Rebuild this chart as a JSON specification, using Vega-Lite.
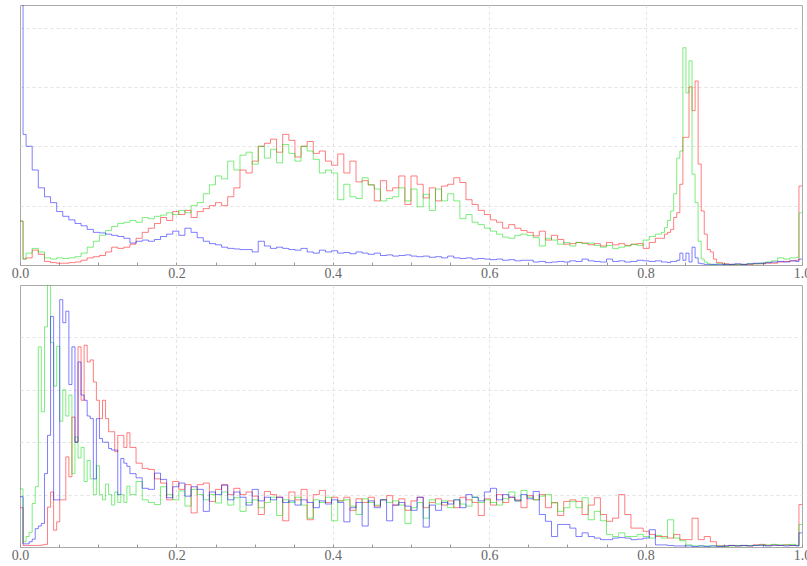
{
  "$schema": "https://vega.github.io/schema/vega-lite/v6.json",
  "padding": {"left": 10, "top": 4, "right": 0, "bottom": 0},
  "background": "white",
  "spacing": 20,
  "bounds": "flush",
  "config": {
    "view": {"stroke": "#aaaaaa", "strokeWidth": 1},
    "font": "Liberation Serif"
  },
  "datasets": {
    "top": [
      {"x":0,"r":0.74,"g":0.74,"b":8},
      {"x":0.0039,"r":0.1,"g":0.1,"b":2.2},
      {"x":0.0078,"r":0.12,"g":0.2,"b":2.0},
      {"x":0.0156,"r":0.25,"g":0.28,"b":1.6},
      {"x":0.0234,"r":0.18,"g":0.22,"b":1.3},
      {"x":0.0313,"r":0.06,"g":0.12,"b":1.15},
      {"x":0.0391,"r":0.04,"g":0.1,"b":1.05},
      {"x":0.0469,"r":0.03,"g":0.12,"b":0.9},
      {"x":0.0547,"r":0.03,"g":0.11,"b":0.82},
      {"x":0.0625,"r":0.04,"g":0.12,"b":0.76},
      {"x":0.0703,"r":0.05,"g":0.14,"b":0.7},
      {"x":0.0781,"r":0.08,"g":0.2,"b":0.66},
      {"x":0.0859,"r":0.12,"g":0.3,"b":0.6},
      {"x":0.0938,"r":0.14,"g":0.4,"b":0.55},
      {"x":0.1016,"r":0.16,"g":0.5,"b":0.54},
      {"x":0.1094,"r":0.22,"g":0.58,"b":0.52},
      {"x":0.1172,"r":0.3,"g":0.65,"b":0.5},
      {"x":0.125,"r":0.28,"g":0.7,"b":0.48},
      {"x":0.1328,"r":0.3,"g":0.72,"b":0.45},
      {"x":0.1406,"r":0.35,"g":0.75,"b":0.37},
      {"x":0.1484,"r":0.45,"g":0.72,"b":0.4},
      {"x":0.1563,"r":0.55,"g":0.8,"b":0.42},
      {"x":0.1641,"r":0.62,"g":0.78,"b":0.4},
      {"x":0.1719,"r":0.7,"g":0.82,"b":0.43},
      {"x":0.1797,"r":0.8,"g":0.84,"b":0.48},
      {"x":0.1875,"r":0.75,"g":0.88,"b":0.52},
      {"x":0.1953,"r":0.9,"g":0.85,"b":0.57},
      {"x":0.2031,"r":0.85,"g":0.92,"b":0.5},
      {"x":0.2109,"r":0.92,"g":0.88,"b":0.62},
      {"x":0.2188,"r":0.8,"g":1.0,"b":0.55},
      {"x":0.2266,"r":0.9,"g":1.05,"b":0.46},
      {"x":0.2344,"r":0.95,"g":1.2,"b":0.4},
      {"x":0.2422,"r":1.0,"g":1.35,"b":0.36},
      {"x":0.25,"r":1.05,"g":1.5,"b":0.34},
      {"x":0.2578,"r":1.0,"g":1.45,"b":0.3},
      {"x":0.2656,"r":1.15,"g":1.75,"b":0.28},
      {"x":0.2734,"r":1.3,"g":1.6,"b":0.27},
      {"x":0.2813,"r":1.6,"g":1.85,"b":0.26},
      {"x":0.2891,"r":1.55,"g":1.9,"b":0.26},
      {"x":0.2969,"r":1.75,"g":1.7,"b":0.22},
      {"x":0.3047,"r":2.0,"g":2.0,"b":0.4},
      {"x":0.3125,"r":2.05,"g":1.8,"b":0.32},
      {"x":0.3203,"r":2.12,"g":1.95,"b":0.28},
      {"x":0.3281,"r":1.9,"g":1.72,"b":0.3},
      {"x":0.3359,"r":2.2,"g":2.03,"b":0.28},
      {"x":0.3438,"r":2.1,"g":1.88,"b":0.26},
      {"x":0.3516,"r":1.82,"g":1.75,"b":0.25},
      {"x":0.3594,"r":2.0,"g":2.0,"b":0.28},
      {"x":0.3672,"r":2.08,"g":1.92,"b":0.22},
      {"x":0.375,"r":1.88,"g":1.78,"b":0.2},
      {"x":0.3828,"r":1.92,"g":1.55,"b":0.25},
      {"x":0.3906,"r":1.75,"g":1.6,"b":0.22},
      {"x":0.3984,"r":1.68,"g":1.55,"b":0.24},
      {"x":0.4063,"r":1.87,"g":1.1,"b":0.2},
      {"x":0.4141,"r":1.55,"g":1.36,"b":0.21},
      {"x":0.4219,"r":1.75,"g":1.15,"b":0.19},
      {"x":0.4297,"r":1.4,"g":1.12,"b":0.22},
      {"x":0.4375,"r":1.42,"g":1.47,"b":0.2},
      {"x":0.4453,"r":1.35,"g":1.35,"b":0.18},
      {"x":0.4531,"r":1.08,"g":1.28,"b":0.2},
      {"x":0.4609,"r":1.42,"g":1.08,"b":0.16},
      {"x":0.4688,"r":1.25,"g":1.12,"b":0.17},
      {"x":0.4766,"r":1.3,"g":1.15,"b":0.15},
      {"x":0.4844,"r":1.5,"g":1.3,"b":0.16},
      {"x":0.4922,"r":1.02,"g":1.08,"b":0.17},
      {"x":0.5,"r":1.5,"g":1.28,"b":0.15},
      {"x":0.5078,"r":1.36,"g":0.98,"b":0.14},
      {"x":0.5156,"r":1.13,"g":1.19,"b":0.15},
      {"x":0.5234,"r":1.3,"g":0.92,"b":0.13},
      {"x":0.5313,"r":1.08,"g":1.28,"b":0.14},
      {"x":0.5391,"r":1.33,"g":1.08,"b":0.12},
      {"x":0.5469,"r":1.36,"g":1.2,"b":0.15},
      {"x":0.5547,"r":1.47,"g":1.08,"b":0.12},
      {"x":0.5625,"r":1.39,"g":0.78,"b":0.11},
      {"x":0.5703,"r":1.1,"g":0.85,"b":0.12},
      {"x":0.5781,"r":1.02,"g":0.72,"b":0.1},
      {"x":0.5859,"r":0.92,"g":0.68,"b":0.11},
      {"x":0.5938,"r":0.85,"g":0.62,"b":0.1},
      {"x":0.6016,"r":0.76,"g":0.57,"b":0.09},
      {"x":0.6094,"r":0.72,"g":0.52,"b":0.1},
      {"x":0.6172,"r":0.62,"g":0.47,"b":0.08},
      {"x":0.625,"r":0.68,"g":0.45,"b":0.09},
      {"x":0.6328,"r":0.62,"g":0.5,"b":0.07},
      {"x":0.6406,"r":0.58,"g":0.52,"b":0.08},
      {"x":0.6484,"r":0.55,"g":0.5,"b":0.08},
      {"x":0.6563,"r":0.49,"g":0.46,"b":0.05},
      {"x":0.6641,"r":0.57,"g":0.32,"b":0.06},
      {"x":0.6719,"r":0.42,"g":0.45,"b":0.04},
      {"x":0.6797,"r":0.5,"g":0.42,"b":0.05},
      {"x":0.6875,"r":0.43,"g":0.35,"b":0.06},
      {"x":0.6953,"r":0.35,"g":0.38,"b":0.05},
      {"x":0.7031,"r":0.36,"g":0.32,"b":0.07},
      {"x":0.7109,"r":0.38,"g":0.38,"b":0.06},
      {"x":0.7188,"r":0.37,"g":0.36,"b":0.1},
      {"x":0.7266,"r":0.34,"g":0.37,"b":0.07},
      {"x":0.7344,"r":0.36,"g":0.33,"b":0.06},
      {"x":0.7422,"r":0.32,"g":0.3,"b":0.05},
      {"x":0.75,"r":0.38,"g":0.33,"b":0.1},
      {"x":0.7578,"r":0.34,"g":0.28,"b":0.06},
      {"x":0.7656,"r":0.36,"g":0.3,"b":0.07},
      {"x":0.7734,"r":0.33,"g":0.32,"b":0.05},
      {"x":0.7813,"r":0.35,"g":0.35,"b":0.06},
      {"x":0.7891,"r":0.36,"g":0.33,"b":0.08},
      {"x":0.7969,"r":0.28,"g":0.42,"b":0.07},
      {"x":0.8047,"r":0.38,"g":0.48,"b":0.06},
      {"x":0.8125,"r":0.45,"g":0.52,"b":0.07},
      {"x":0.8203,"r":0.45,"g":0.55,"b":0.05},
      {"x":0.8242,"r":0.52,"g":0.63,"b":0.05},
      {"x":0.8281,"r":0.55,"g":0.75,"b":0.04},
      {"x":0.832,"r":0.6,"g":0.91,"b":0.06},
      {"x":0.8359,"r":0.8,"g":1.2,"b":0.06},
      {"x":0.8398,"r":0.88,"g":1.8,"b":0.08},
      {"x":0.8438,"r":1.36,"g":1.92,"b":0.2},
      {"x":0.8477,"r":2.15,"g":3.66,"b":0.08},
      {"x":0.8516,"r":2.15,"g":2.9,"b":0.2},
      {"x":0.8555,"r":3.0,"g":3.44,"b":0.05},
      {"x":0.8594,"r":2.6,"g":1.53,"b":0.3},
      {"x":0.8633,"r":3.1,"g":1.05,"b":0.12},
      {"x":0.8672,"r":1.7,"g":0.4,"b":0.03},
      {"x":0.8711,"r":0.91,"g":0.1,"b":0.02},
      {"x":0.875,"r":0.52,"g":0.05,"b":0.01},
      {"x":0.8789,"r":0.26,"g":0.02,"b":0.01},
      {"x":0.8828,"r":0.22,"g":0.01,"b":0.01},
      {"x":0.8867,"r":0.1,"g":0.01,"b":0.01},
      {"x":0.8906,"r":0.04,"g":0.02,"b":0.01},
      {"x":0.8984,"r":0.02,"g":0.01,"b":0.01},
      {"x":0.9063,"r":0.01,"g":0.01,"b":0.01},
      {"x":0.9141,"r":0.01,"g":0.01,"b":0.02},
      {"x":0.9219,"r":0.01,"g":0.01,"b":0.01},
      {"x":0.9297,"r":0.01,"g":0.02,"b":0.02},
      {"x":0.9375,"r":0.02,"g":0.02,"b":0.03},
      {"x":0.9453,"r":0.02,"g":0.03,"b":0.03},
      {"x":0.9531,"r":0.03,"g":0.05,"b":0.04},
      {"x":0.9609,"r":0.03,"g":0.07,"b":0.05},
      {"x":0.9688,"r":0.05,"g":0.12,"b":0.06},
      {"x":0.9766,"r":0.06,"g":0.1,"b":0.05},
      {"x":0.9844,"r":0.07,"g":0.12,"b":0.07},
      {"x":0.9922,"r":0.08,"g":0.13,"b":0.06},
      {"x":0.9961,"r":1.33,"g":0.88,"b":0.1},
      {"x":1.0,"r":1.33,"g":0.88,"b":0.1}
    ],
    "bottom": [
      {"x":0,"r":0.75,"g":1.11,"b":0.96},
      {"x":0.0039,"r":0.03,"g":0.1,"b":0.06},
      {"x":0.0078,"r":0.03,"g":0.2,"b":0.06},
      {"x":0.0117,"r":0.03,"g":0.28,"b":0.1},
      {"x":0.0156,"r":0.03,"g":0.83,"b":0.15},
      {"x":0.0195,"r":0.03,"g":1.15,"b":0.35},
      {"x":0.0234,"r":0.03,"g":3.82,"b":0.4},
      {"x":0.0273,"r":0.04,"g":2.58,"b":0.45},
      {"x":0.0313,"r":0.05,"g":4.2,"b":1.4},
      {"x":0.0352,"r":0.76,"g":5.3,"b":2.13},
      {"x":0.0391,"r":1.05,"g":3.9,"b":4.4},
      {"x":0.043,"r":0.32,"g":3.07,"b":0.9},
      {"x":0.0469,"r":0.48,"g":3.83,"b":0.9},
      {"x":0.0508,"r":0.9,"g":2.4,"b":4.72},
      {"x":0.0547,"r":0.9,"g":3.0,"b":4.28},
      {"x":0.0586,"r":1.72,"g":2.5,"b":4.5},
      {"x":0.0625,"r":1.34,"g":2.9,"b":3.1},
      {"x":0.0664,"r":2.48,"g":1.4,"b":3.82},
      {"x":0.0703,"r":2.0,"g":2.1,"b":2.0},
      {"x":0.0742,"r":3.82,"g":1.7,"b":3.53},
      {"x":0.0781,"r":2.8,"g":1.9,"b":2.9},
      {"x":0.082,"r":3.85,"g":1.25,"b":2.8},
      {"x":0.0859,"r":3.53,"g":1.65,"b":2.5},
      {"x":0.0898,"r":3.57,"g":1.3,"b":2.45},
      {"x":0.0938,"r":3.15,"g":1.0,"b":1.3},
      {"x":0.0977,"r":2.8,"g":1.55,"b":2.45},
      {"x":0.1016,"r":2.45,"g":1.0,"b":2.07},
      {"x":0.1055,"r":2.8,"g":0.9,"b":2.0},
      {"x":0.1094,"r":2.45,"g":1.2,"b":2.0},
      {"x":0.1133,"r":2.2,"g":1.0,"b":1.88},
      {"x":0.1172,"r":2.2,"g":0.8,"b":1.85},
      {"x":0.1211,"r":1.82,"g":1.05,"b":1.85},
      {"x":0.125,"r":2.13,"g":0.85,"b":1.0},
      {"x":0.1289,"r":2.13,"g":1.0,"b":1.69},
      {"x":0.1328,"r":1.9,"g":0.85,"b":1.6},
      {"x":0.1367,"r":2.18,"g":1.16,"b":1.54},
      {"x":0.1406,"r":1.9,"g":1.0,"b":1.4},
      {"x":0.1484,"r":1.6,"g":1.25,"b":1.32},
      {"x":0.1563,"r":1.5,"g":0.9,"b":1.12},
      {"x":0.1641,"r":1.48,"g":0.85,"b":1.1},
      {"x":0.1719,"r":1.3,"g":0.81,"b":1.41},
      {"x":0.1797,"r":1.22,"g":1.15,"b":1.29},
      {"x":0.1875,"r":0.9,"g":1.0,"b":0.94},
      {"x":0.1953,"r":1.25,"g":0.9,"b":1.15},
      {"x":0.2031,"r":1.1,"g":1.07,"b":1.22},
      {"x":0.2109,"r":1.19,"g":0.78,"b":0.97},
      {"x":0.2188,"r":0.65,"g":1.1,"b":1.15},
      {"x":0.2266,"r":1.19,"g":1.0,"b":1.1},
      {"x":0.2344,"r":1.22,"g":0.9,"b":0.68},
      {"x":0.2422,"r":0.87,"g":1.0,"b":1.05},
      {"x":0.25,"r":1.1,"g":0.84,"b":1.0},
      {"x":0.2578,"r":1.19,"g":1.05,"b":1.18},
      {"x":0.2656,"r":1.0,"g":0.8,"b":0.9},
      {"x":0.2734,"r":1.12,"g":0.94,"b":1.05},
      {"x":0.2813,"r":1.0,"g":0.68,"b":0.95},
      {"x":0.2891,"r":1.05,"g":0.85,"b":0.8},
      {"x":0.2969,"r":0.97,"g":0.9,"b":1.1},
      {"x":0.3047,"r":0.62,"g":0.75,"b":0.88},
      {"x":0.3125,"r":1.06,"g":0.85,"b":0.95},
      {"x":0.3203,"r":1.0,"g":0.95,"b":0.9},
      {"x":0.3281,"r":0.95,"g":0.6,"b":0.95},
      {"x":0.3359,"r":0.5,"g":0.9,"b":0.85},
      {"x":0.3438,"r":1.05,"g":0.85,"b":0.88},
      {"x":0.3516,"r":0.9,"g":0.95,"b":0.8},
      {"x":0.3594,"r":1.1,"g":0.8,"b":0.9},
      {"x":0.3672,"r":0.52,"g":0.55,"b":0.85},
      {"x":0.375,"r":1.0,"g":0.9,"b":0.75},
      {"x":0.3828,"r":1.08,"g":0.85,"b":0.88},
      {"x":0.3906,"r":0.85,"g":0.95,"b":0.82},
      {"x":0.3984,"r":0.95,"g":0.5,"b":0.9},
      {"x":0.4063,"r":0.88,"g":0.88,"b":0.85},
      {"x":0.4141,"r":0.95,"g":0.9,"b":0.48},
      {"x":0.4219,"r":0.7,"g":0.78,"b":0.75},
      {"x":0.4297,"r":0.92,"g":0.62,"b":0.85},
      {"x":0.4375,"r":0.85,"g":0.92,"b":0.4},
      {"x":0.4453,"r":0.95,"g":0.85,"b":0.88},
      {"x":0.4531,"r":0.78,"g":0.8,"b":0.75},
      {"x":0.4609,"r":0.9,"g":0.9,"b":0.9},
      {"x":0.4688,"r":0.98,"g":0.85,"b":0.5},
      {"x":0.4766,"r":0.8,"g":0.88,"b":0.8},
      {"x":0.4844,"r":0.92,"g":0.8,"b":0.85},
      {"x":0.4922,"r":0.7,"g":0.45,"b":0.78},
      {"x":0.5,"r":0.88,"g":0.75,"b":0.7},
      {"x":0.5078,"r":0.95,"g":0.85,"b":0.95},
      {"x":0.5156,"r":0.75,"g":0.55,"b":0.38},
      {"x":0.5234,"r":0.85,"g":0.9,"b":0.8},
      {"x":0.5313,"r":0.92,"g":0.82,"b":0.7},
      {"x":0.5391,"r":0.8,"g":0.88,"b":0.85},
      {"x":0.5469,"r":0.88,"g":0.75,"b":0.82},
      {"x":0.5547,"r":0.75,"g":0.9,"b":0.9},
      {"x":0.5625,"r":0.95,"g":0.82,"b":0.75},
      {"x":0.5703,"r":0.9,"g":0.78,"b":1.0},
      {"x":0.5781,"r":0.85,"g":0.95,"b":0.95},
      {"x":0.5859,"r":0.6,"g":0.85,"b":0.88},
      {"x":0.5938,"r":0.92,"g":0.9,"b":1.05},
      {"x":0.6016,"r":0.8,"g":0.85,"b":1.12},
      {"x":0.6094,"r":1.0,"g":0.8,"b":0.9},
      {"x":0.6172,"r":0.85,"g":0.92,"b":1.0},
      {"x":0.625,"r":0.95,"g":1.05,"b":0.95},
      {"x":0.6328,"r":0.9,"g":0.88,"b":0.88},
      {"x":0.6406,"r":0.75,"g":1.08,"b":1.0},
      {"x":0.6484,"r":0.98,"g":0.95,"b":0.92},
      {"x":0.6563,"r":0.9,"g":0.9,"b":1.06},
      {"x":0.6641,"r":1.0,"g":0.97,"b":0.62},
      {"x":0.6719,"r":0.75,"g":1.0,"b":0.49},
      {"x":0.6797,"r":0.85,"g":0.84,"b":0.2},
      {"x":0.6875,"r":0.6,"g":0.68,"b":0.43},
      {"x":0.6953,"r":0.87,"g":0.75,"b":0.43},
      {"x":0.7031,"r":0.9,"g":0.87,"b":0.36},
      {"x":0.7109,"r":0.87,"g":0.75,"b":0.2},
      {"x":0.7188,"r":0.62,"g":0.94,"b":0.27},
      {"x":0.7266,"r":0.8,"g":0.52,"b":0.2},
      {"x":0.7344,"r":0.94,"g":0.68,"b":0.17},
      {"x":0.7422,"r":0.62,"g":0.5,"b":0.14},
      {"x":0.75,"r":0.49,"g":0.24,"b":0.14},
      {"x":0.7578,"r":0.55,"g":0.2,"b":0.17},
      {"x":0.7656,"r":1.0,"g":0.27,"b":0.18},
      {"x":0.7734,"r":0.62,"g":0.2,"b":0.17},
      {"x":0.7813,"r":0.36,"g":0.2,"b":0.14},
      {"x":0.7891,"r":0.36,"g":0.24,"b":0.15},
      {"x":0.7969,"r":0.3,"g":0.2,"b":0.17},
      {"x":0.8047,"r":0.24,"g":0.17,"b":0.33},
      {"x":0.8125,"r":0.2,"g":0.22,"b":0.04},
      {"x":0.8203,"r":0.2,"g":0.17,"b":0.04},
      {"x":0.8281,"r":0.17,"g":0.52,"b":0.03},
      {"x":0.8359,"r":0.24,"g":0.17,"b":0.02},
      {"x":0.8438,"r":0.14,"g":0.12,"b":0.02},
      {"x":0.8516,"r":0.14,"g":0.04,"b":0.02},
      {"x":0.8594,"r":0.55,"g":0.02,"b":0.01},
      {"x":0.8672,"r":0.14,"g":0.02,"b":0.02},
      {"x":0.875,"r":0.2,"g":0.02,"b":0.01},
      {"x":0.8828,"r":0.1,"g":0.02,"b":0.02},
      {"x":0.8906,"r":0.02,"g":0.02,"b":0.01},
      {"x":0.8984,"r":0.02,"g":0.01,"b":0.02},
      {"x":0.9063,"r":0.03,"g":0.02,"b":0.03},
      {"x":0.9141,"r":0.02,"g":0.03,"b":0.02},
      {"x":0.9219,"r":0.03,"g":0.02,"b":0.03},
      {"x":0.9297,"r":0.02,"g":0.03,"b":0.02},
      {"x":0.9375,"r":0.04,"g":0.03,"b":0.03},
      {"x":0.9453,"r":0.05,"g":0.04,"b":0.03},
      {"x":0.9531,"r":0.03,"g":0.04,"b":0.02},
      {"x":0.9609,"r":0.04,"g":0.05,"b":0.03},
      {"x":0.9688,"r":0.03,"g":0.04,"b":0.03},
      {"x":0.9766,"r":0.04,"g":0.04,"b":0.02},
      {"x":0.9844,"r":0.03,"g":0.05,"b":0.03},
      {"x":0.9922,"r":0.03,"g":0.03,"b":0.02},
      {"x":0.9961,"r":0.81,"g":0.43,"b":0.27},
      {"x":1.0,"r":0.81,"g":0.43,"b":0.27}
    ]
  },
  "vconcat": [
    {
      "width": 782,
      "height": 260,
      "data": {"name": "top"},
      "transform": [{"fold": ["r", "g", "b"], "as": ["ch", "v"]}],
      "mark": {"type": "line", "interpolate": "step-after", "clip": true, "strokeWidth": 1, "opacity": 0.5},
      "encoding": {
        "x": {
          "field": "x", "type": "quantitative",
          "scale": {"domain": [0, 1], "nice": false, "zero": false},
          "axis": {
            "title": null,
            "values": [0,0.05,0.1,0.15,0.2,0.25,0.3,0.35,0.4,0.45,0.5,0.55,0.6,0.65,0.7,0.75,0.8,0.85,0.9,0.95,1.0],
            "labelExpr": "abs(datum.value*5 - round(datum.value*5)) < 0.001 ? format(datum.value, '.1f') : ''",
            "labelFont": "Liberation Serif", "labelFontSize": 14, "labelColor": "#666666",
            "labelOverlap": false, "labelBound": false, "labelFlush": false, "labelPadding": 4,
            "domain": false,
            "ticks": true, "tickSize": -3, "tickColor": "#999999",
            "grid": true, "gridDash": [3, 3], "gridColor": "#e2e2e2",
            "gridOpacity": {"condition": {"test": "abs(datum.value*5 - round(datum.value*5)) < 0.001 && datum.value > 0.01 && datum.value < 0.99", "value": 1}, "value": 0}
          }
        },
        "y": {
          "field": "v", "type": "quantitative",
          "scale": {"domain": [0, 4.38], "nice": false, "zero": true},
          "axis": {"title": null, "values": [1, 2, 3, 4], "labels": false, "ticks": false, "domain": false, "grid": true, "gridDash": [3, 3], "gridColor": "#e2e2e2"}
        },
        "color": {
          "field": "ch", "type": "nominal",
          "scale": {"domain": ["r", "g", "b"], "range": ["#ff0000", "#00dd00", "#0000ff"]},
          "legend": null
        }
      }
    },
    {
      "width": 782,
      "height": 262,
      "data": {"name": "bottom"},
      "transform": [{"fold": ["r", "g", "b"], "as": ["ch", "v"]}],
      "mark": {"type": "line", "interpolate": "step-after", "clip": true, "strokeWidth": 1, "opacity": 0.5},
      "encoding": {
        "x": {
          "field": "x", "type": "quantitative",
          "scale": {"domain": [0, 1], "nice": false, "zero": false},
          "axis": {
            "title": null,
            "values": [0,0.05,0.1,0.15,0.2,0.25,0.3,0.35,0.4,0.45,0.5,0.55,0.6,0.65,0.7,0.75,0.8,0.85,0.9,0.95,1.0],
            "labelExpr": "abs(datum.value*5 - round(datum.value*5)) < 0.001 ? format(datum.value, '.1f') : ''",
            "labelFont": "Liberation Serif", "labelFontSize": 14, "labelColor": "#666666",
            "labelOverlap": false, "labelBound": false, "labelFlush": false, "labelPadding": 4,
            "domain": false,
            "ticks": true, "tickSize": -3, "tickColor": "#999999",
            "grid": true, "gridDash": [3, 3], "gridColor": "#e2e2e2",
            "gridOpacity": {"condition": {"test": "abs(datum.value*5 - round(datum.value*5)) < 0.001 && datum.value > 0.01 && datum.value < 0.99", "value": 1}, "value": 0}
          }
        },
        "y": {
          "field": "v", "type": "quantitative",
          "scale": {"domain": [0, 5], "nice": false, "zero": true},
          "axis": {"title": null, "values": [1, 2, 3, 4], "labels": false, "ticks": false, "domain": false, "grid": true, "gridDash": [3, 3], "gridColor": "#e2e2e2"}
        },
        "color": {
          "field": "ch", "type": "nominal",
          "scale": {"domain": ["r", "g", "b"], "range": ["#ff0000", "#00dd00", "#0000ff"]},
          "legend": null
        }
      }
    }
  ]
}
